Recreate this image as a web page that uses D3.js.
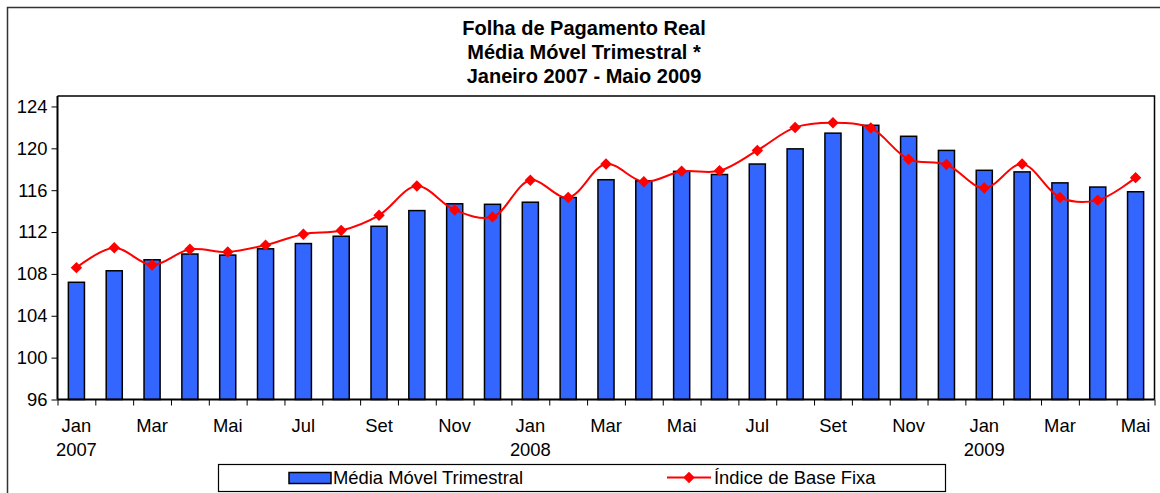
<!DOCTYPE html>
<head>
<meta charset="utf-8">
<script src="https://d3js.org/d3.v7.min.js"></script>
<style>
body { margin:0; background:#fff; }
svg text { font-family: "Liberation Sans", Arial, sans-serif; fill:#000; }
</style>
</head>
<body>
<div id="chart"></div>
<script>
// months Jan 2007 - Mai 2009
var months = ["Jan","Fev","Mar","Abr","Mai","Jun","Jul","Ago","Set","Out","Nov","Dez",
              "Jan","Fev","Mar","Abr","Mai","Jun","Jul","Ago","Set","Out","Nov","Dez",
              "Jan","Fev","Mar","Abr","Mai"];
var years = ["2007","","","","","","","","","","","",
             "2008","","","","","","","","","","","",
             "2009","","","",""];
// Média Móvel Trimestral (bars)
var mediaMovel = [107.2,108.3,109.35,109.9,109.8,110.4,110.9,111.6,112.55,114.05,114.7,114.65,
                  114.85,115.3,117.0,116.9,117.8,117.5,118.5,119.95,121.45,122.2,121.15,119.8,
                  117.9,117.75,116.7,116.3,115.85];
// Índice de Base Fixa (line)
var indiceBase = [108.6,110.5,108.85,110.35,110.1,110.75,111.8,112.15,113.6,116.4,114.1,113.45,
                  116.95,115.3,118.5,116.8,117.8,117.85,119.8,122.0,122.45,121.95,118.95,118.45,
                  116.2,118.5,115.3,115.05,117.2];
var yTicks = [96,100,104,108,112,116,120,124];

var W = 1160, H = 493;
var plot = {left:57.5, right:1154.5, top:96, bottom:399.5};

var svg = d3.select("#chart").append("svg")
  .attr("width", W).attr("height", H);

// outer chart border
svg.append("rect")
  .attr("x", 7.5).attr("y", 7.5).attr("width", 1170).attr("height", 500)
  .attr("fill", "none").attr("stroke", "#333").attr("stroke-width", 1.5);

// title
var title = ["Folha de Pagamento Real", "Média Móvel Trimestral *", "Janeiro 2007 - Maio 2009"];
svg.selectAll(".title").data(title).enter().append("text")
  .attr("x", 584).attr("y", function(d,i){ return 35 + i*24; })
  .attr("text-anchor", "middle")
  .style("font-weight", "bold").style("font-size", "20px")
  .text(function(d){ return d; });

var x = d3.scaleBand()
  .domain(d3.range(months.length))
  .range([plot.left, plot.right])
  .paddingInner(0.575).paddingOuter(0.2875);
var xLin = d3.scaleLinear().domain([0, months.length]).range([plot.left, plot.right]);
var y = d3.scaleLinear().domain([96, 125]).range([plot.bottom, plot.top]);

// plot area border (top & right)
svg.append("path")
  .attr("d", "M" + plot.left + "," + plot.top + "H" + plot.right + "V" + plot.bottom)
  .attr("fill", "none").attr("stroke", "#000").attr("stroke-width", 1.5);

// bars
svg.selectAll(".bar").data(mediaMovel).enter().append("rect")
  .attr("x", function(d,i){ return x(i); })
  .attr("width", x.bandwidth())
  .attr("y", function(d){ return y(d); })
  .attr("height", function(d){ return y(96) - y(d); })
  .attr("fill", "#3366FF").attr("stroke", "#000").attr("stroke-width", 1.5);

// y axis
var yAxis = svg.append("g")
  .attr("transform", "translate(" + plot.left + ",0)")
  .call(d3.axisLeft(y).tickValues(yTicks).tickSize(6).tickPadding(4));
yAxis.select(".domain").attr("stroke-width", 2).attr("d", "M0," + plot.top + "V" + plot.bottom);
yAxis.selectAll("text").style("font-size", "18.4px");

// x axis: ticks between categories
var xAxis = svg.append("g")
  .attr("transform", "translate(0," + plot.bottom + ")")
  .call(d3.axisBottom(xLin).tickValues(d3.range(months.length + 1)).tickSize(6).tickFormat(""));
xAxis.select(".domain").attr("stroke-width", 2).attr("d", "M" + plot.left + ",0H" + plot.right);

// month labels, every second category
svg.selectAll(".mlab").data(months).enter()
  .filter(function(d,i){ return i % 2 === 0; })
  .append("text")
  .attr("x", function(d,i){ return x(i*2) + x.bandwidth()/2; })
  .attr("y", 432)
  .attr("text-anchor", "middle").style("font-size", "18.4px")
  .text(function(d){ return d; });

svg.selectAll(".ylab").data(years).enter()
  .filter(function(d){ return d !== ""; })
  .append("text")
  .attr("x", function(d){ return x(years.indexOf(d)) + x.bandwidth()/2; })
  .attr("y", 455.5)
  .attr("text-anchor", "middle").style("font-size", "18.4px")
  .text(function(d){ return d; });

// line
var line = d3.line()
  .x(function(d,i){ return x(i) + x.bandwidth()/2; })
  .y(function(d){ return y(d); })
  .curve(d3.curveCatmullRom.alpha(0.5));
svg.append("path").datum(indiceBase)
  .attr("fill", "none").attr("stroke", "#FF0000").attr("stroke-width", 2)
  .attr("d", line);

var diamond = d3.symbol().type(d3.symbolDiamond2).size(84);
svg.selectAll(".pt").data(indiceBase).enter().append("path")
  .attr("d", diamond)
  .attr("transform", function(d,i){ return "translate(" + (x(i) + x.bandwidth()/2) + "," + y(d) + ")"; })
  .attr("fill", "#FF0000");

// legend
var lg = svg.append("g");
lg.append("rect").attr("x", 218.5).attr("y", 464.5).attr("width", 727).attr("height", 27)
  .attr("fill", "#fff").attr("stroke", "#000").attr("stroke-width", 1.2);
lg.append("rect").attr("x", 289).attr("y", 472.5).attr("width", 42).attr("height", 11)
  .attr("fill", "#3366FF").attr("stroke", "#000").attr("stroke-width", 1.5);
lg.append("text").attr("x", 333).attr("y", 484).style("font-size", "18.4px")
  .text("Média Móvel Trimestral");
lg.append("line").attr("x1", 667).attr("x2", 711).attr("y1", 477.5).attr("y2", 477.5)
  .attr("stroke", "#FF0000").attr("stroke-width", 2);
lg.append("path").attr("d", diamond)
  .attr("transform", "translate(689,477.5)").attr("fill", "#FF0000");
lg.append("text").attr("x", 714).attr("y", 484).style("font-size", "18.4px")
  .text("Índice de Base Fixa");
</script>
</body>
</html>
